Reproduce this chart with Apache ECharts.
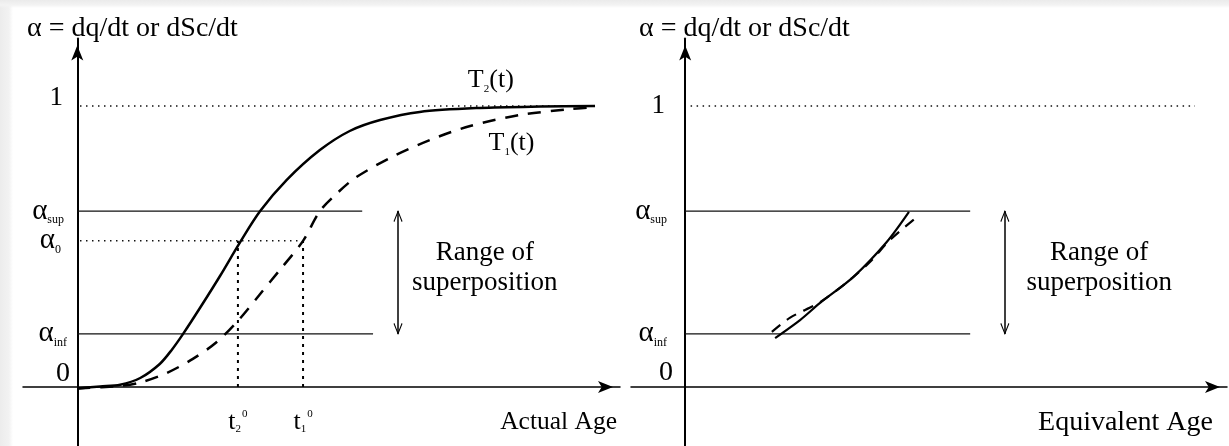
<!DOCTYPE html>
<html>
<head>
<meta charset="utf-8">
<script src="https://cdn.jsdelivr.net/npm/echarts@6/dist/echarts.min.js"></script>
<style>
  html, body { margin: 0; padding: 0; background: #fff; }
  #chart {
    width: 1229px; height: 446px;
    background:
      linear-gradient(to bottom, #ebebeb 0px, #f3f3f3 5px, rgba(255,255,255,0) 8px),
      linear-gradient(to right, #ececec 0px, #f2f2f2 9px, rgba(255,255,255,0) 13px),
      #fff;
  }
</style>
</head>
<body>
<div id="chart"></div>
<script>
const SERIF = 'Liberation Serif';

// Hydration levels marked on the vertical axes
const ALPHA_INF = 0.189;
const ALPHA_0 = 0.52;
const ALPHA_SUP = 0.626;
const ALPHA_MAX = 1;

// Ages at which each curing curve reaches alpha_0
const T2_0 = 2.96;
const T1_0 = 4.16;

// Degree of hydration vs actual age, temperature T2 (solid)
const t2Age   = [0, 0.42, 0.79, 1.16, 1.52, 1.74, 1.95, 2.26, 2.63, 2.99, 3.37, 3.86, 4.47, 5.02, 5.58, 6.31, 7.42, 8.53, 9.54];
const t2Alpha = [-0.005, 0.002, 0.008, 0.032, 0.082, 0.132, 0.189, 0.281, 0.395, 0.512, 0.626, 0.737, 0.843, 0.911, 0.950, 0.979, 0.993, 0.998, 1.0];

// Degree of hydration vs actual age, temperature T1 (dashed)
const t1Age   = [0, 0.79, 1.16, 1.65, 2.13, 2.57, 2.99, 3.37, 3.73, 4.16, 4.47, 4.79, 5.12, 5.76, 6.50, 7.24, 8.16, 9.08, 9.54];
const t1Alpha = [-0.005, 0.004, 0.016, 0.05, 0.100, 0.160, 0.242, 0.331, 0.416, 0.520, 0.626, 0.690, 0.744, 0.815, 0.879, 0.929, 0.968, 0.989, 0.996];

// Same two curves plotted against equivalent age, inside the superposition range
const eqT2Age   = [1.66, 2.12, 2.49, 3.10, 3.72, 4.13];
const eqT2Alpha = [0.174, 0.238, 0.299, 0.391, 0.516, 0.623];
const eqT1Age   = [1.60, 1.93, 2.49, 3.04, 3.41, 3.78, 4.28];
const eqT1Alpha = [0.196, 0.246, 0.302, 0.381, 0.445, 0.523, 0.605];

// Horizontal extent of each reference level [start, end] on the age axis
const leftLevelOne  = [0.05, 9.54];
const leftLevelSup  = [0, 5.25];
const leftLevelZero = [0.05, T1_0];
const leftLevelInf  = [0, 5.45];
const rightLevelOne = [0.1, 9.41];
const rightLevelSup = [0, 5.26];
const rightLevelInf = [0, 5.26];

// Position of the "range of superposition" arrow on each panel
const rangeArrowX = [5.91, 5.90];

const zip = (xs, ys) => xs.map((x, i) => [x, ys[i]]);

const chart = echarts.init(document.getElementById('chart'));

const baseText = { fontFamily: SERIF, color: '#000' };

const levelRichLeft = {
  a:   { ...baseText, fontSize: 29 },
  s:   { ...baseText, fontSize: 12, verticalAlign: 'bottom', padding: [0, 6, 0, 0] },
  si:  { ...baseText, fontSize: 12, verticalAlign: 'bottom', padding: [0, 3, 0, 0] },
  s0:  { ...baseText, fontSize: 12, verticalAlign: 'bottom', padding: [0, 9, 0, 0] },
  one: { ...baseText, fontSize: 27, padding: [0, 7, 16, 0] },
  z:   { ...baseText, fontSize: 28, padding: [0, 0, 26, 0] }
};
const levelRichRight = {
  a:   { ...baseText, fontSize: 29 },
  s:   { ...baseText, fontSize: 12, verticalAlign: 'bottom', padding: [0, 6, 0, 0] },
  si:  { ...baseText, fontSize: 12, verticalAlign: 'bottom', padding: [0, 6, 0, 0] },
  s0:  { ...baseText, fontSize: 12, verticalAlign: 'bottom', padding: [0, 6, 0, 0] },
  one: { ...baseText, fontSize: 27, padding: [0, 8, 0, 0] },
  z:   { ...baseText, fontSize: 28, padding: [0, 0, 28, 0] }
};

function levelLabel(v) {
  if (v === 0) return '{z|0}';
  if (v === ALPHA_MAX) return '{one|1}';
  if (v === ALPHA_SUP) return '{a|α}{s|sup}';
  if (v === ALPHA_0) return '{a|α}{s0|0}';
  if (v === ALPHA_INF) return '{a|α}{si|inf}';
  return '';
}

const ageRich = {
  t:  { ...baseText, fontSize: 26 },
  sb: { ...baseText, fontSize: 11, verticalAlign: 'bottom' },
  sp: { ...baseText, fontSize: 11, verticalAlign: 'top', padding: [0, 0, 0, 1] }
};

const curveRich = {
  T:  { ...baseText, fontSize: 26 },
  sb: { ...baseText, fontSize: 11, verticalAlign: 'bottom' }
};

function axisArrowLine(width) {
  return {
    onZero: true,
    symbol: ['none', 'arrow'],
    symbolSize: [9, 15],
    symbolOffset: [0, -7],
    lineStyle: { color: '#000', width: width }
  };
}

function xAxisFor(grid, name, nameGap, fontSize, labels) {
  return {
    gridIndex: grid, type: 'value', min: -1, max: 10,
    axisLine: axisArrowLine(1.5),
    axisTick: { show: false },
    splitLine: { show: false },
    axisLabel: labels,
    name: name, nameLocation: 'end', nameGap: nameGap,
    nameMoveOverlap: false,
    nameTextStyle: { ...baseText, fontSize: fontSize, align: 'right', verticalAlign: 'top', padding: [22, 0, 0, 0] }
  };
}

function yAxisFor(grid, levels, rich, margin) {
  return {
    gridIndex: grid, type: 'value', min: -0.21, max: 1.24,
    axisLine: axisArrowLine(2),
    axisTick: { show: false },
    splitLine: { show: false },
    axisLabel: { customValues: levels, formatter: levelLabel, margin: margin, rich: rich }
  };
}

function guide(grid, ends, y, style) {
  return {
    type: 'line', xAxisIndex: grid, yAxisIndex: grid,
    data: [[ends[0], y], [ends[1], y]],
    symbol: 'none', silent: true, animation: false,
    lineStyle: style, z: 1
  };
}

function vGuide(grid, x, y0, y1, style) {
  return {
    type: 'line', xAxisIndex: grid, yAxisIndex: grid,
    data: [[x, y0], [x, y1]],
    symbol: 'none', silent: true, animation: false,
    lineStyle: style, z: 1
  };
}

const thinLine   = { color: '#111', width: 1.3, type: 'solid' };
const dotLine    = { color: '#111', width: 1.5, type: [1.5, 4.5] };
const dotLineV   = { color: '#000', width: 2, type: [3, 5] };
const solidCurve = { color: '#000', width: 2.5, type: 'solid' };
const dashCurve  = { color: '#000', width: 2.5, type: [13, 10] };

const chevron = 'path://M5,0 L10,10 L9,10.8 L5,2.4 L1,10.8 L0,10 Z';

function rangeArrow(grid, x) {
  return {
    type: 'line', xAxisIndex: grid, yAxisIndex: grid, data: [],
    silent: true, animation: false,
    markLine: {
      silent: true, animation: false,
      symbol: [chevron, chevron], symbolSize: [9, 12],
      symbolOffset: [[0, 5], [0, 5]],
      label: { show: false },
      lineStyle: { color: '#000', width: 1.5, type: 'solid' },
      emphasis: { disabled: true },
      data: [[{ coord: [x, ALPHA_INF] }, { coord: [x, ALPHA_SUP] }]]
    }
  };
}

function notes(grid, items) {
  return {
    type: 'scatter', xAxisIndex: grid, yAxisIndex: grid,
    symbolSize: 0, silent: true, animation: false, z: 5,
    itemStyle: { opacity: 1 },
    emphasis: { disabled: true },
    label: { show: true, position: 'inside', ...baseText, opacity: 1, fontSize: 27, lineHeight: 30, align: 'center', rich: curveRich },
    data: items.map(it => ({ value: [it.x, it.y], label: { formatter: it.text } }))
  };
}

const option = {
  animation: false,
  title: [
    { text: 'α = dq/dt or dSc/dt', left: 22, top: 10, textStyle: { ...baseText, fontSize: 28, fontWeight: 'normal' } },
    { text: 'α = dq/dt or dSc/dt', left: 634, top: 10, textStyle: { ...baseText, fontSize: 28, fontWeight: 'normal' } }
  ],
  grid: [
    { left: 23, top: 38.55, width: 597, height: 407.45, outerBoundsMode: 'none' },
    { left: 631, top: 38.55, width: 596, height: 407.45, outerBoundsMode: 'none' }
  ],
  xAxis: [
    xAxisFor(0, 'Actual Age', -3, 25.5, {
      customValues: [T2_0, T1_0],
      formatter: v => (v === T2_0 ? '{t|t}{sb|2}{sp|0}' : '{t|t}{sb|1}{sp|0}'),
      margin: -37, rich: ageRich
    }),
    xAxisFor(1, 'Equivalent Age', -14, 28, { show: false })
  ],
  yAxis: [
    yAxisFor(0, [0, ALPHA_INF, ALPHA_0, ALPHA_SUP, ALPHA_MAX], levelRichLeft, -47),
    yAxisFor(1, [0, ALPHA_INF, ALPHA_SUP, ALPHA_MAX], levelRichRight, -42)
  ],
  series: [
    // left panel: reference levels
    guide(0, leftLevelOne, ALPHA_MAX, dotLine),
    guide(0, leftLevelSup, ALPHA_SUP, thinLine),
    guide(0, leftLevelZero, ALPHA_0, dotLine),
    guide(0, leftLevelInf, ALPHA_INF, thinLine),
    vGuide(0, T2_0, 0, ALPHA_0, dotLineV),
    vGuide(0, T1_0, 0, ALPHA_0, dotLineV),
    // left panel: curing curves
    { type: 'line', xAxisIndex: 0, yAxisIndex: 0, data: zip(t2Age, t2Alpha), symbol: 'none', smooth: 0.3, lineStyle: solidCurve, silent: true, z: 3 },
    { type: 'line', xAxisIndex: 0, yAxisIndex: 0, data: zip(t1Age, t1Alpha), symbol: 'none', smooth: 0.3, lineStyle: dashCurve, silent: true, z: 3 },
    rangeArrow(0, rangeArrowX[0]),
    notes(0, [
      { x: 7.62, y: 1.093, text: '{T|T}{sb|2}{T|(t)}' },
      { x: 8.0, y: 0.868, text: '{T|T}{sb|1}{T|(t)}' },
      { x: 7.51, y: 0.423, text: 'Range of\nsuperposition' }
    ]),
    // right panel: reference levels
    guide(1, rightLevelOne, ALPHA_MAX, dotLine),
    guide(1, rightLevelSup, ALPHA_SUP, thinLine),
    guide(1, rightLevelInf, ALPHA_INF, thinLine),
    // right panel: curves on the equivalent-age scale
    { type: 'line', xAxisIndex: 1, yAxisIndex: 1, data: zip(eqT2Age, eqT2Alpha), symbol: 'none', smooth: 0.3, lineStyle: { ...solidCurve, width: 2.2 }, silent: true, z: 3 },
    { type: 'line', xAxisIndex: 1, yAxisIndex: 1, data: zip(eqT1Age, eqT1Alpha), symbol: 'none', smooth: 0.3, lineStyle: { ...dashCurve, width: 2.2, type: [11, 8] }, silent: true, z: 3 },
    rangeArrow(1, rangeArrowX[1]),
    notes(1, [
      { x: 7.64, y: 0.423, text: 'Range of\nsuperposition' }
    ])
  ]
};

chart.setOption(option);
</script>
</body>
</html>
